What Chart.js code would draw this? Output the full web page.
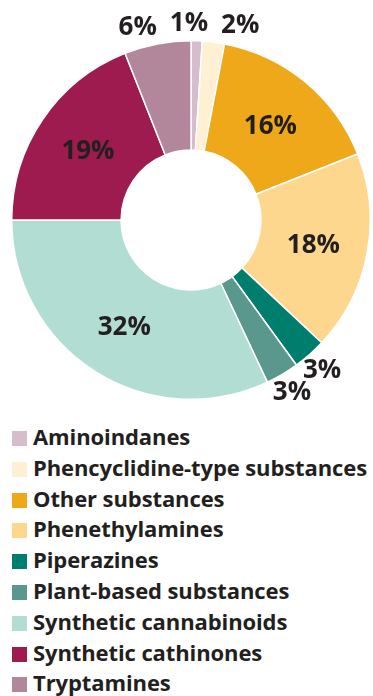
<!DOCTYPE html>
<html>
<head>
<meta charset="utf-8">
<script src="https://cdn.jsdelivr.net/npm/chart.js@4.4.1/dist/chart.umd.min.js"></script>
<style>
  body { margin: 0; background: #ffffff; font-family: "Open Sans", Lato, sans-serif; }
  #wrap { position: relative; width: 373px; height: 696px; }
  #chartBox { position: absolute; left: 0; top: 0; width: 373px; height: 420px; }
  #legend { position: absolute; left: 12px; top: 421px; margin: 0; padding: 0; list-style: none; }
  #legend li { height: 30.8px; line-height: 30.8px; font-weight: 700; font-size: 22px; letter-spacing: -0.1px; color: #231f20; white-space: nowrap; }
  #legend span { display: inline-block; width: 15px; height: 15px; margin-right: 6px; vertical-align: -1px; }
</style>
</head>
<body>
<div id="wrap">
  <div id="chartBox"><canvas id="myChart" width="373" height="420"></canvas></div>
  <ul id="legend"></ul>
</div>
<script>
const categories = [
  "Aminoindanes",
  "Phencyclidine-type substances",
  "Other substances",
  "Phenethylamines",
  "Piperazines",
  "Plant-based substances",
  "Synthetic cannabinoids",
  "Synthetic cathinones",
  "Tryptamines"
];
const shares = [1, 2, 16, 18, 3, 3, 32, 19, 6];
const colours = [
  "#d6bdcb",
  "#fff0d3",
  "#efa81a",
  "#fdd78e",
  "#007e6d",
  "#5a988d",
  "#b2ddd3",
  "#9d1b4e",
  "#b3879b"
];

// draws the percentage labels, inside big slices and outside small ones
const pctLabels = {
  id: "pctLabels",
  afterDatasetsDraw(chart) {
    const ctx = chart.ctx;
    const meta = chart.getDatasetMeta(0);
    const values = chart.data.datasets[0].data;
    ctx.save();
    ctx.font = "bold 26px 'Open Sans', Lato, sans-serif";
    ctx.fillStyle = "#231f20";
    ctx.textAlign = "center";
    ctx.textBaseline = "alphabetic";
    const half = ctx.measureText("0").actualBoundingBoxAscent / 2;

    const outside = [];
    meta.data.forEach((arc, i) => {
      const p = arc.getProps(["x", "y", "startAngle", "endAngle", "innerRadius", "outerRadius"], true);
      const mid = (p.startAngle + p.endAngle) / 2;
      const text = values[i] + "%";
      if (values[i] >= 10) {
        const r = (p.innerRadius + p.outerRadius) / 2;
        ctx.fillText(text, p.x + Math.cos(mid) * r, p.y + Math.sin(mid) * r + half);
      } else {
        const r = p.outerRadius + 19;
        outside.push({
          text: text,
          x: p.x + Math.cos(mid) * r,
          y: p.y + Math.sin(mid) * r,
          w: ctx.measureText(text).width
        });
      }
    });

    // push overlapping outside labels apart sideways
    for (let k = 0; k < 30; k++) {
      for (let a = 0; a < outside.length; a++) {
        for (let b = 0; b < outside.length; b++) {
          if (a === b) continue;
          const la = outside[a];
          const lb = outside[b];
          if (Math.abs(la.y - lb.y) > 19) continue;
          const need = (la.w + lb.w) / 2 + 13;
          const dx = lb.x - la.x;
          if (Math.abs(dx) < need) {
            const push = (need - Math.abs(dx)) / 2;
            const dir = dx >= 0 ? 1 : -1;
            la.x -= push * dir;
            lb.x += push * dir;
          }
        }
      }
    }
    outside.forEach(l => ctx.fillText(l.text, l.x, l.y + half));
    ctx.restore();
  }
};

const data = {
  labels: categories,
  datasets: [
    {
      data: shares,
      backgroundColor: colours,
      borderColor: "#ffffff",
      borderWidth: 1.5
    }
  ]
};

new Chart(document.getElementById("myChart"), {
  type: "doughnut",
  data: data,
  options: {
    responsive: false,
    animation: false,
    cutout: "39%",
    layout: {
      padding: { top: 40, bottom: 20, left: 11, right: 2 }
    },
    plugins: {
      legend: { display: false },
      tooltip: { enabled: false }
    }
  },
  plugins: [pctLabels]
});

const legend = document.getElementById("legend");
for (let i = 0; i < categories.length; i++) {
  const li = document.createElement("li");
  const box = document.createElement("span");
  box.style.background = colours[i];
  li.appendChild(box);
  li.appendChild(document.createTextNode(categories[i]));
  legend.appendChild(li);
}
</script>
</body>
</html>
